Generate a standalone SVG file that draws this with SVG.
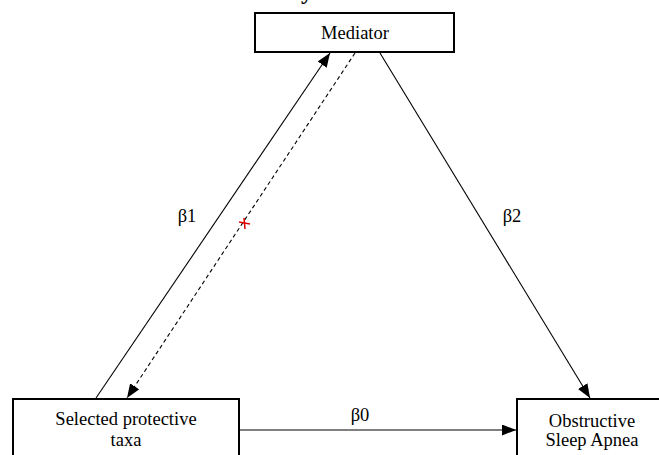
<svg xmlns="http://www.w3.org/2000/svg" width="659" height="455" viewBox="0 0 659 455">
<style>
.box{fill:#fff;stroke:#000;stroke-width:2}
.t{font-family:"Liberation Serif","Times New Roman",serif;font-size:18.5px;fill:#000;text-anchor:middle}
.c{stroke:#000;stroke-width:1.1;fill:none}
.d{stroke-dasharray:4,3}
</style>
<defs>
<marker id="ah" viewBox="0 0 14 11" refX="14" refY="5.5" markerWidth="14" markerHeight="11" markerUnits="userSpaceOnUse" orient="auto">
<path d="M0,0 L14,5.5 L0,11 Z" fill="#000"/>
</marker>
</defs>
<text x="307" y="-1" style="font-family:'Liberation Serif',serif;font-size:24px;font-weight:bold;text-anchor:middle">y</text>
<g id="connectors">
<line class="c" x1="96" y1="398" x2="330" y2="53" marker-end="url(#ah)"/>
<line class="c d" x1="355" y1="53" x2="127" y2="398" marker-end="url(#ah)"/>
<line class="c" x1="380" y1="53" x2="590" y2="398" marker-end="url(#ah)"/>
<line class="c" x1="240" y1="430" x2="516" y2="430" marker-end="url(#ah)"/>
<g stroke="#e00000" stroke-width="1.5">
<line x1="239" y1="222" x2="250" y2="224"/>
<line x1="244" y1="218" x2="245" y2="229"/>
</g>
<text class="t" x="187" y="222">β1</text>
<text class="t" x="512" y="222">β2</text>
<text class="t" x="360" y="421">β0</text>
</g>
<g id="mediator">
<rect class="box" x="255" y="13" width="199" height="39"/>
<text class="t" x="355" y="39">Mediator</text>
</g>
<g id="exposure">
<rect class="box" x="13" y="399" width="226" height="70"/>
<text class="t" x="126" y="425">Selected protective</text>
<text class="t" x="126" y="446">taxa</text>
</g>
<g id="outcome">
<rect class="box" x="517" y="399" width="160" height="70"/>
<text class="t" x="592" y="427">Obstructive</text>
<text class="t" x="592" y="446">Sleep Apnea</text>
</g>
</svg>
